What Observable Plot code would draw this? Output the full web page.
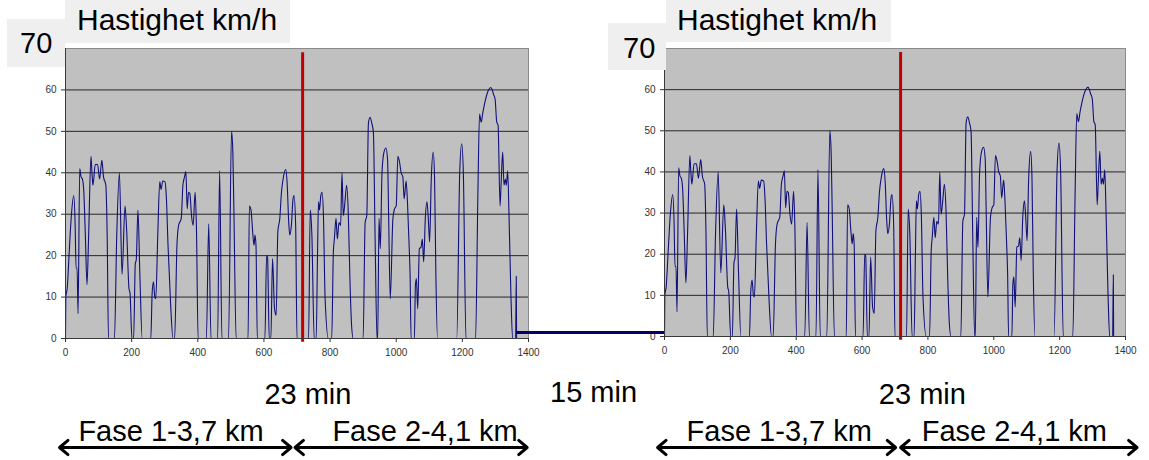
<!DOCTYPE html>
<html><head><meta charset="utf-8">
<script src="https://cdn.jsdelivr.net/npm/d3@7"></script>
<script src="https://cdn.jsdelivr.net/npm/@observablehq/plot@0.6"></script>
<style>
body{margin:0;background:#fff;font-family:"Liberation Sans",Arial,sans-serif;}
#wrap{position:relative;width:1149px;height:460px;overflow:hidden;background:#fff;}
.box{position:absolute;background:#efefef;}
.lbl{position:absolute;white-space:nowrap;color:#000;font-size:29px;line-height:1;font-family:"Liberation Sans",Arial,sans-serif;}
#wrap svg{position:absolute;top:0;}
</style></head><body><div id="wrap"></div>
<script>
// Speed trace (seconds, km/h), same driving cycle shown twice
const times = [0,1,5,12,18,25,29,32,35,38,43,47,51,55,60,65,70,77,80,83,90,97,103,110,115,122,126,130,
148,155,163,171,180,185,192,195,201,206,211,214,219,225,232,
258,262,266,270,273,279,285,289,294,301,305,310,318,325,
330,337,342,350,355,360,364,368,372,376,381,386,392,396,401,
426,433,440,460,466,473,493,502,506,509,516,
552,556,561,566,570,573,576,580,603,608,611,616,
621,626,632,637,642,648,653,658,666,670,675,678,683,688,691,696,700,
735,740,745,752,758,762,765,768,772,776,780,785,795,
805,810,813,818,822,827,832,836,840,845,850,855,860,865,870,
900,906,911,916,921,926,931,936,942,
944,948,952,957,963,969,974,977,982,990,995,1000,1005,1010,1015,1020,1024,1030,1034,1039,1042,1045,
1055,1058,1061,1065,1070,1075,1079,1083,1088,1093,1097,1101,1106,1112,1116,1120,1125,
1183,1192,1198,1203,1211,
1240,1247,1252,1257,1262,1267,1273,1278,1286,1289,1294,1299,1304,1308,1314,1317,1322,1326,1330,1333,1337,1341,1347,1352,
1361,1363,1364];
const speeds = [0,10,12,22,30,34.5,28,17,17,6,41,39,38.5,36,25,13,25,44,40,37,42,42,38.5,43,39,37,25,0,
0,25,40,15.5,32,26,12,11,0,0,18,19,31,15,0,
0,11,13.7,10,9.6,25,37.8,36,38,37.8,34,22.5,8,0,
0,22.5,27.3,29,37,39,40.3,31.3,35.3,35,29.7,27.3,35.3,26.5,0,
0,27.7,0,0,40.5,0,0,50,45,32,0,
0,32,31,25.7,22.5,25,22.5,0,0,20,19.5,0,
0,19.3,7.2,5.6,25.7,29,35.3,38.5,40.8,37.8,28,25,27.3,33.7,34.5,27,0,
0,31,25,0,0,20,33,31,34.5,35.3,29.5,9.6,0,
0,21,24,29,24,28,27.3,40,29.7,33,37,30.5,14.5,3.2,0,
0,28,29.7,52,53.4,52,49.8,25,0,
0,29,21.7,40,45,46,43,30,9.6,29,31.3,32,44,42.6,40,39,33.7,38,33,22.5,15.3,0,
0,12.8,14.5,7.2,21.7,22,24,18.5,29,33,29,23.3,38.5,45,38.5,15,0,
0,40,47,40,0,
0,35,54.2,52.2,54.6,56.6,58.6,59.8,60.6,60.3,59,57.8,52.2,51.5,32,37,45,37,38.5,37,40.5,30,10,0,
0,15,0];

const yTicks = [0,10,20,30,40,50,60];
const gridLevels = [10,20,30,40,50,60];
const xTicks = [0,200,400,600,800,1000,1200,1400];
const phaseBoundary = [717];
const axisTitle = "Hastighet km/h";
const axisTop = "70";
const cycleLabel = "23 min";
const pauseLabel = "15 min";
const pauseLevel = 1.4;
const leftPhases = [
  {label: "Fase 1-3,7 km", start: -18, end: 682, labelAt: 39},
  {label: "Fase 2-4,1 km", start: 694, end: 1396, labelAt: 807}
];
const rightPhases = [
  {label: "Fase 1-3,7 km", start: -21, end: 702, labelAt: 67},
  {label: "Fase 2-4,1 km", start: 717, end: 1435, labelAt: 781}
];
const leftCycleAt = [733];
const rightCycleAt = [783];

const trace = times.map((t, i) => ({t, v: speeds[i]}));
const FONT = "Liberation Sans, Arial, sans-serif";

function panel({width, marginLeft, marginRight, marginBottom, phases, cycleAt, dyShift}) {
  const segs = phases.flatMap(p => {
    const mid = (p.start + p.end) / 2;
    return [{from: mid, to: p.start}, {from: mid, to: p.end}];
  });
  return Plot.plot({
    width, height: 460,
    marginLeft, marginRight, marginTop: 48, marginBottom,
    style: {background: "transparent", overflow: "visible", fontFamily: FONT, fontSize: "10px"},
    x: {domain: [0, 1400]},
    y: {domain: [0, 70]},
    marks: [
      Plot.frame({fill: "#c0c0c0", stroke: null}),
      Plot.frame({stroke: "#8a8a8a", strokeWidth: 1}),
      Plot.ruleY(gridLevels, {stroke: "#262626", strokeWidth: 1}),
      Plot.line(trace, {x: "t", y: "v", stroke: "#10107a", strokeWidth: 1.1, curve: "monotone-x"}),
      Plot.ruleX(phaseBoundary, {y1: -0.9, y2: 69, stroke: "#c00000", strokeWidth: 3}),
      Plot.ruleX([0], {stroke: "#3a3a3a"}),
      Plot.ruleY([0], {stroke: "#3a3a3a"}),
      Plot.axisY({ticks: yTicks, tickSize: 4, tickPadding: 5, label: null, color: "#333", fontSize: 10}),
      Plot.axisX({ticks: xTicks, tickSize: 4, tickPadding: 6, label: null, color: "#333", fontSize: 10,
        tickFormat: d => String(d)}),
      Plot.text(cycleAt, {x: d => d, frameAnchor: "bottom", dy: 65 + dyShift, text: () => cycleLabel,
        fontSize: 29, fill: "#000", fontFamily: FONT}),
      Plot.text(phases, {x: "labelAt", frameAnchor: "bottom", dy: 102 + dyShift, text: "label",
        textAnchor: "start", fontSize: 29, fill: "#000", fontFamily: FONT}),
      Plot.arrow(segs, {x1: "from", x2: "to", y1: () => 0, y2: () => 0, dy: 109 + dyShift,
        stroke: "#000", strokeWidth: 3, headLength: 5.5, headAngle: 80})
    ]
  });
}

const wrap = document.getElementById("wrap");
const leftLeft = 0, rightLeft = 560;
const left = panel({width: 560, marginLeft: 65, marginRight: 32, marginBottom: 122, phases: leftPhases, cycleAt: leftCycleAt, dyShift: 0});
const right = panel({width: 589, marginLeft: 104, marginRight: 24, marginBottom: 124, phases: rightPhases, cycleAt: rightCycleAt, dyShift: 2});
left.style.left = leftLeft + "px";
right.style.left = rightLeft + "px";
wrap.appendChild(left);
wrap.appendChild(right);

// pause connector between the two runs, placed with the panels' own scales
const lx = left.scale("x"), ly = left.scale("y"), rx = right.scale("x");
const x0 = leftLeft + lx.apply(times[times.length - 1]);
const x1 = rightLeft + rx.apply(times[0]);
const cy = ly.apply(pauseLevel);
const conn = document.createElement("div");
conn.style.cssText = `position:absolute;left:${x0}px;top:${cy - 1.5}px;width:${x1 - x0}px;height:3px;background:#000066;`;
wrap.appendChild(conn);

function addBox(l, t, w, h) {
  const b = document.createElement("div");
  b.className = "box";
  b.style.cssText = `left:${l}px;top:${t}px;width:${w}px;height:${h}px;`;
  wrap.appendChild(b);
}
function addLabel(text, l, t, size) {
  const s = document.createElement("div");
  s.className = "lbl";
  s.textContent = text;
  s.style.left = l + "px";
  s.style.top = t + "px";
  if (size) s.style.fontSize = size + "px";
  wrap.appendChild(s);
}
addBox(7, 19, 58, 48); addLabel(axisTop, 20, 28.5);
addBox(65, 0, 225, 43); addLabel(axisTitle, 77, 5, 30);
addBox(608, 23, 58, 47); addLabel(axisTop, 623, 33.5);
addBox(666, 0, 225, 42); addLabel(axisTitle, 677, 5, 30);
addLabel(pauseLabel, 550, 377.5);
</script></body></html>
